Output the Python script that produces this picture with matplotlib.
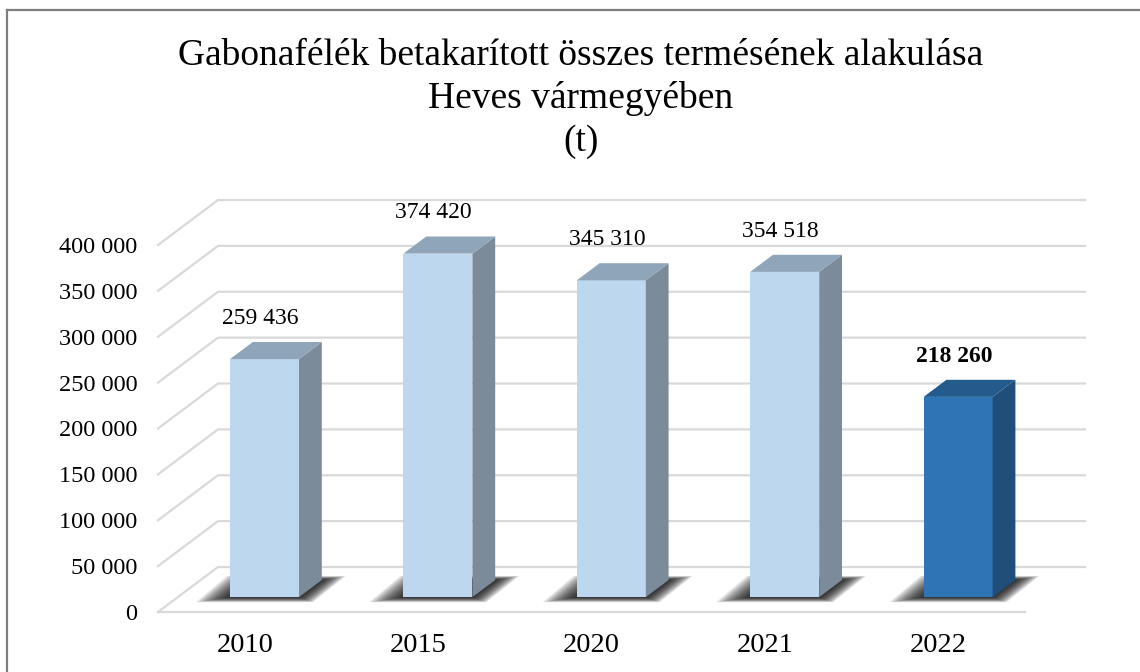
import matplotlib
matplotlib.use("Agg")
import matplotlib.pyplot as plt
from matplotlib.patches import Polygon
from matplotlib.lines import Line2D

years = ["2010", "2015", "2020", "2021", "2022"]
harvest = [259436, 374420, 345310, 354518, 218260]
highlight = [False, False, False, False, True]
yticks = list(range(0, 400001, 50000))
title_lines = ["Gabonafélék betakarított összes termésének alakulása",
               "Heves vármegyében", "(t)"]

plt.rcParams["font.family"] = ["Liberation Serif", "DejaVu Serif"]

W, H = 1140, 672
fig = plt.figure(figsize=(W / 100, H / 100), dpi=100)
ax = fig.add_axes([158 / W, 60 / H, 867 / W, 367 / H])
n = len(years)
ax.set_xlim(0, n)
ax.set_ylim(0, yticks[-1])
for s in ax.spines.values():
    s.set_visible(False)

# pixel -> data unit helpers
px_x = n / 867
px_y = yticks[-1] / 367

# depth of the fake 3d box, in data units
dep_x = 60 * px_x
dep_y = 45 * px_y
# bars sit from depth f to f+bd
f = 0.33
bd = 0.38
bdx, bdy = bd * dep_x, bd * dep_y
bw = 69 * px_x

# back wall gridlines + floor
grid_c = "#d9d9d9"
for v in yticks:
    ax.plot([0, dep_x, n + dep_x], [v, v + dep_y, v + dep_y],
            color=grid_c, lw=1.6, clip_on=False, zorder=1)
ax.plot([0, n], [0, 0], color=grid_c, lw=1.6, clip_on=False, zorder=1)

face_cols = {False: ("#bdd7ee", "#7b8b9a", "#8fa5b9"),
             True: ("#2e75b6", "#1f4e79", "#235b8d")}

for i, (v, hl) in enumerate(zip(harvest, highlight)):
    cx = i + 0.5 + f * dep_x
    y0 = f * dep_y
    x0, x1 = cx - bw / 2, cx + bw / 2
    front, side, top = face_cols[hl]

    # soft shadow on the floor, stacked layers to fake a blur
    layers = 14
    for k in range(layers):
        g = 1 - k / layers
        shp = [(x0 - 34 * px_x * g, y0 - 5 * px_y * g),
               (x1 + 14 * px_x * g, y0 - 5 * px_y * g),
               (x1 + bdx + 24 * px_x * g, y0 + bdy + 4 * px_y * g),
               (x0 + bdx - 26 * px_x * g, y0 + bdy + 4 * px_y * g)]
        ax.add_patch(Polygon(shp, closed=True, color="black", alpha=0.1,
                             lw=0, clip_on=False, zorder=2))

    ax.bar(cx, v, width=bw, bottom=y0, color=front, zorder=3, clip_on=False)
    ax.add_patch(Polygon([(x1, y0), (x1 + bdx, y0 + bdy),
                          (x1 + bdx, y0 + bdy + v), (x1, y0 + v)],
                         closed=True, color=side, lw=0, zorder=3, clip_on=False))
    ax.add_patch(Polygon([(x0, y0 + v), (x1, y0 + v),
                          (x1 + bdx, y0 + bdy + v), (x0 + bdx, y0 + bdy + v)],
                         closed=True, color=top, lw=0, zorder=3, clip_on=False))

    lab = f"{v:,}".replace(",", " ")
    ax.annotate(lab, (cx, y0 + v + bdy), xytext=(-3, 17),
                textcoords="offset points", ha="center", va="center",
                fontsize=17, fontweight="bold" if hl else "normal",
                annotation_clip=False)

ax.set_yticks(yticks)
ax.set_yticklabels([f"{v:,}".replace(",", " ") for v in yticks], fontsize=17.5)
ax.set_xticks([i + 0.5 for i in range(n)])
ax.set_xticklabels(years, fontsize=20.5)
ax.tick_params(axis="y", length=0, pad=15)
ax.tick_params(axis="x", length=0, pad=15)

for k, t in enumerate(title_lines):
    fig.text(581 / W, 1 - (56 + 43 * k) / H, t, fontsize=27,
             ha="center", va="center")

# outer frame of the chart
fig.add_artist(Line2D([7 / W, 7 / W], [0, 1 - 10 / H],
                      transform=fig.transFigure, color="#7f7f7f", lw=1.6))
fig.add_artist(Line2D([7 / W, 1], [1 - 10 / H, 1 - 10 / H],
                      transform=fig.transFigure, color="#7f7f7f", lw=1.6))

fig.savefig("out.png", dpi=100)
